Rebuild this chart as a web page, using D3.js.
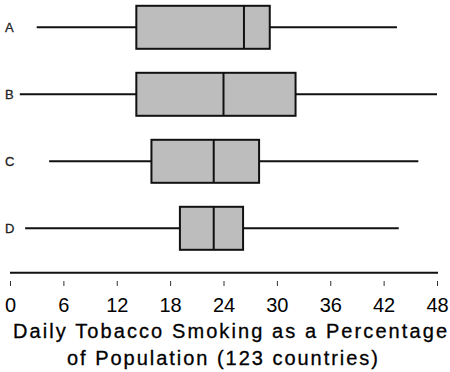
<!DOCTYPE html>
<html><head><meta charset="utf-8">
<script src="https://cdn.jsdelivr.net/npm/d3@7"></script>
<style>body{margin:0;background:#fff}svg{display:block}</style>
</head><body>
<svg id="c" width="450" height="372"></svg>
<script>
const categories = ["A", "B", "C", "D"];
const mins    = [3.0, 1.1, 4.4, 1.7];
const q1s     = [14.2, 14.2, 15.9, 19.1];
const medians = [26.3, 24.0, 22.9, 22.9];
const q3s     = [29.2, 32.1, 28.0, 26.2];
const maxs    = [43.5, 48.0, 45.9, 43.7];
const tickValues = [0, 6, 12, 18, 24, 30, 36, 42, 48];
const titleLines = ["Daily Tobacco Smoking as a Percentage", "of Population (123 countries)"];

const svg = d3.select("#c");
const font = "'Liberation Sans', Arial, sans-serif";
const x = d3.scaleLinear().domain([0, 48]).range([10, 437]);
const y = d3.scalePoint().domain(categories).range([27.3, 228.3]);
const boxH = 43;

const rows = categories.map((c, i) => ({c, min: mins[i], q1: q1s[i], med: medians[i], q3: q3s[i], max: maxs[i]}));
const g = svg.append("g");
const row = g.selectAll("g.row").data(rows).join("g").attr("class", "row");

row.append("line").attr("x1", d => x(d.min)).attr("x2", d => x(d.q1))
  .attr("y1", d => y(d.c)).attr("y2", d => y(d.c)).attr("stroke", "#111").attr("stroke-width", 2);
row.append("line").attr("x1", d => x(d.q3)).attr("x2", d => x(d.max))
  .attr("y1", d => y(d.c)).attr("y2", d => y(d.c)).attr("stroke", "#111").attr("stroke-width", 2);
row.append("rect").attr("x", d => x(d.q1)).attr("width", d => x(d.q3) - x(d.q1))
  .attr("y", d => y(d.c) - boxH / 2).attr("height", boxH)
  .attr("fill", "#bdbdbd").attr("stroke", "#111").attr("stroke-width", 2);
row.append("line").attr("x1", d => x(d.med)).attr("x2", d => x(d.med))
  .attr("y1", d => y(d.c) - boxH / 2).attr("y2", d => y(d.c) + boxH / 2)
  .attr("stroke", "#111").attr("stroke-width", 2);
row.append("text").attr("x", 5).attr("y", d => y(d.c)).attr("dy", "0.35em")
  .attr("font-family", font).attr("font-size", 13).attr("fill", "#222")
  .attr("stroke", "#222").attr("stroke-width", 0.3).text(d => d.c);

// axis line
svg.append("line").attr("x1", x(0)).attr("x2", x(48) + 1).attr("y1", 272.7).attr("y2", 272.7)
  .attr("stroke", "#111").attr("stroke-width", 2);

const axis = d3.axisBottom(x).tickValues(tickValues).tickSize(5).tickPadding(11.5).tickFormat(d3.format("d"));
const ag = svg.append("g").attr("transform", "translate(0,281)").call(axis);
ag.select(".domain").remove();
ag.selectAll(".tick line").attr("stroke", "#333").attr("stroke-width", 1);
ag.selectAll(".tick text").attr("font-family", font).attr("font-size", 20).attr("fill", "#000");

svg.append("text").attr("x", 230).attr("y", 337.5).attr("text-anchor", "middle")
  .attr("font-family", font).attr("font-size", 20).attr("fill", "#000")
  .attr("stroke", "#000").attr("stroke-width", 0.3)
  .attr("textLength", 434).attr("lengthAdjust", "spacing").text(titleLines[0]);
svg.append("text").attr("x", 222.5).attr("y", 365).attr("text-anchor", "middle")
  .attr("font-family", font).attr("font-size", 20).attr("fill", "#000")
  .attr("stroke", "#000").attr("stroke-width", 0.3)
  .attr("textLength", 311).attr("lengthAdjust", "spacing").text(titleLines[1]);
</script>
</body></html>
